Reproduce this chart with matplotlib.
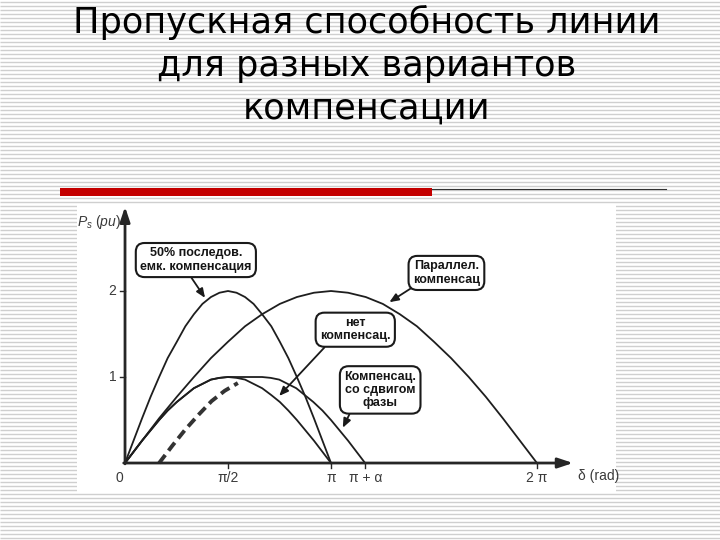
import matplotlib
matplotlib.use("Agg")
import matplotlib.pyplot as plt
import numpy as np

plt.rcParams['mathtext.fontset'] = 'custom'
plt.rcParams['mathtext.it'] = 'Liberation Sans:italic'
plt.rcParams['mathtext.rm'] = 'Liberation Sans'

# ---------------- data ----------------
title_lines = ["Пропускная способность линии", "для разных вариантов", "компенсации"]

delta_half = [0.0, 0.13, 0.26, 0.39, 0.52, 0.65, 0.79, 0.92, 1.05, 1.18, 1.31, 1.44, 1.57,
              1.70, 1.83, 1.96, 2.09, 2.23, 2.36, 2.49, 2.62, 2.75, 2.88, 3.01, 3.14]
p_none = [0.0, 0.13, 0.26, 0.38, 0.5, 0.61, 0.71, 0.79, 0.87, 0.92, 0.97, 0.99, 1.0,
          0.99, 0.97, 0.92, 0.87, 0.79, 0.71, 0.61, 0.5, 0.38, 0.26, 0.13, 0.0]
p_series = [0.0, 0.26, 0.52, 0.77, 1.0, 1.22, 1.41, 1.59, 1.73, 1.85, 1.93, 1.98, 2.0,
            1.98, 1.93, 1.85, 1.73, 1.59, 1.41, 1.22, 1.0, 0.77, 0.52, 0.26, 0.0]

delta_full = [0.0, 0.26, 0.52, 0.79, 1.05, 1.31, 1.57, 1.83, 2.09, 2.36, 2.62, 2.88,
              3.14, 3.40, 3.67, 3.93, 4.19, 4.45, 4.71, 4.97, 5.24, 5.50, 5.76, 6.02, 6.28]
p_parallel = [0.0, 0.26, 0.52, 0.77, 1.0, 1.22, 1.41, 1.59, 1.73, 1.85, 1.93, 1.98,
              2.0, 1.98, 1.93, 1.85, 1.73, 1.59, 1.41, 1.22, 1.0, 0.77, 0.52, 0.26, 0.0]

delta_shift = [0.0, 0.13, 0.26, 0.39, 0.52, 0.65, 0.79, 0.92, 1.05, 1.18, 1.31, 1.44, 1.57,
               1.83, 2.09, 2.22, 2.35, 2.48, 2.61, 2.74, 2.87, 3.01, 3.14, 3.27, 3.40,
               3.53, 3.66]
p_shift = [0.0, 0.13, 0.26, 0.38, 0.5, 0.61, 0.71, 0.79, 0.87, 0.92, 0.97, 0.99, 1.0,
           1.0, 1.0, 0.99, 0.97, 0.92, 0.87, 0.79, 0.71, 0.61, 0.5, 0.38, 0.26, 0.13, 0.0]

delta_dash = [0.52, 0.72, 0.92, 1.12, 1.32, 1.52, 1.72]
p_dash = [0.0, 0.2, 0.39, 0.56, 0.72, 0.84, 0.93]

x_tick_pos = [1.571, 3.142, 3.665, 6.283]
x_tick_labels = ["π/2", "π", "π + α", "2 π"]
y_tick_pos = [1, 2]
y_tick_labels = ["1", "2"]

notes = ["50% последов.\nемк. компенсация", "Параллел.\nкомпенсац", "нет\nкомпенсац.",
         "Компенсац.\nсо сдвигом\nфазы"]
note_xy = [(1.08, 2.36), (4.90, 2.21), (3.51, 1.55), (3.89, 0.85)]
note_tip = [(1.22, 1.92), (4.03, 1.87), (2.35, 0.78), (3.32, 0.41)]
note_rel = [(0.43, 0.0), (0.08, 0.08), (0.13, 0.0), (0.12, 0.05)]

# ---------------- figure ----------------
fig = plt.figure(figsize=(7.2, 5.4), dpi=100)
bg = fig.add_axes([0, 0, 1, 1])
bg.set_xlim(0, 720)
bg.set_ylim(540, 0)
bg.axis('off')
bg.set_facecolor('white')

# striped slide background
bg.hlines(np.arange(1.5, 540, 4), 0, 720, colors='#cfcfcf', lw=1.0, zorder=0)

# title
for i, line in enumerate(title_lines):
    bg.text(367, 33 + 43 * i, line, ha='center', va='baseline',
            fontsize=25.3, family='DejaVu Sans', color='black', zorder=3)

# red bar and thin line
bg.add_patch(plt.Rectangle((60, 188), 372, 8, color='#c40000', lw=0, zorder=2))
bg.plot([432, 666], [188.5, 188.5], color='#333333', lw=0.8, zorder=2)

# chart (white picture)
ax = fig.add_axes([77 / 720, 1 - 492 / 540, (616 - 77) / 720, (492 - 205) / 540])
ax.set_xlim(-0.732, 7.485)
ax.set_ylim(-0.337, 3.0)
ax.set_facecolor('white')
for s in ax.spines.values():
    s.set_visible(False)
ax.set_xticks([])
ax.set_yticks([])

axc = '#262626'
arrow_kw = dict(arrowstyle='-|>,head_length=0.9,head_width=0.3', color=axc, lw=2.0,
                shrinkA=0, shrinkB=0)
ax.annotate('', xy=(6.83, 0), xytext=(-0.02, 0), arrowprops=arrow_kw, zorder=4)
ax.annotate('', xy=(0, 2.98), xytext=(0, -0.01), arrowprops=arrow_kw, zorder=4)

# ticks
for xp in x_tick_pos:
    ax.plot([xp, xp], [0, -0.06], color=axc, lw=1.0)
for yp in y_tick_pos:
    ax.plot([-0.08, 0], [yp, yp], color=axc, lw=1.0)

tick_font = dict(family='Liberation Sans', fontsize=10, color='#3a3a3a')
for xp, lab in zip(x_tick_pos, x_tick_labels):
    ax.text(xp, -0.17, lab, ha='center', va='center', **tick_font)
for yp, lab in zip(y_tick_pos, y_tick_labels):
    ax.text(-0.13, yp, lab, ha='right', va='center', **tick_font)
ax.text(-0.08, -0.17, "0", ha='center', va='center', **tick_font)
ax.text(6.90, -0.15, "δ (rad)", ha='left', va='center', **tick_font)
ax.text(-0.06, 2.80, r"$P_s\ (pu)$", ha='right', va='center', **tick_font)

# curves
cc = '#1e1e1e'
ax.plot(delta_half, p_series, color=cc, lw=1.3, zorder=3)
ax.plot(delta_half, p_none, color=cc, lw=1.3, zorder=3)
ax.plot(delta_full, p_parallel, color=cc, lw=1.3, zorder=3)
ax.plot(delta_shift, p_shift, color=cc, lw=1.3, zorder=3)
ax.plot(delta_dash, p_dash, color='#333333', lw=2.8, ls=(0, (2.6, 1.4)), zorder=3)

# annotations
for txt, xy, tip, rel in zip(notes, note_xy, note_tip, note_rel):
    ax.annotate(txt, xy=tip, xytext=xy, ha='center', va='center',
                family='Liberation Sans', fontsize=9, fontweight='bold', color='#151515',
                linespacing=1.15, zorder=5,
                bbox=dict(boxstyle='round,pad=0.35,rounding_size=0.7', fc='white',
                          ec='#1a1a1a', lw=1.5),
                arrowprops=dict(arrowstyle='-|>,head_length=0.6,head_width=0.25',
                                color='#1a1a1a', lw=1.3, shrinkA=0, shrinkB=0,
                                relpos=rel))

fig.savefig('out.png', dpi=100)
